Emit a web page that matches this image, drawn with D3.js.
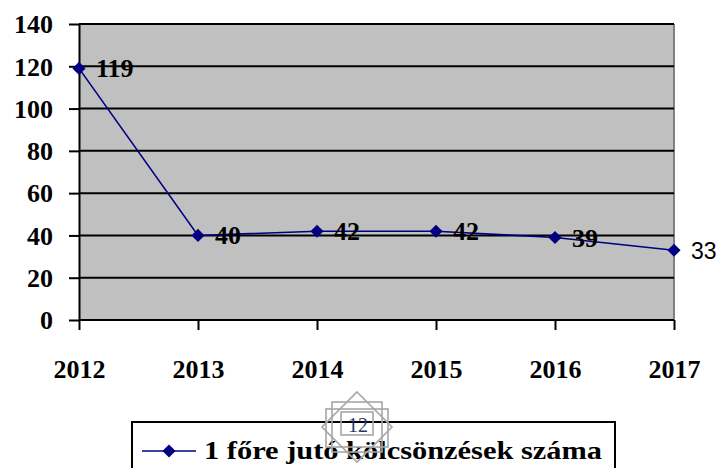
<!DOCTYPE html>
<html>
<head>
<meta charset="utf-8">
<script src="https://cdn.jsdelivr.net/npm/d3@7"></script>
<style>
  html, body { margin: 0; padding: 0; background: #fff; }
  svg { display: block; }
</style>
</head>
<body>
<svg id="chart" width="719" height="468"></svg>
<script>
const years = ["2012", "2013", "2014", "2015", "2016", "2017"];
const values = [119, 40, 42, 42, 39, 33];
const yTicks = [0, 20, 40, 60, 80, 100, 120, 140];
const seriesName = "1 főre jutó kölcsönzések száma";
const pageNumber = "12";

const svg = d3.select("#chart");
const pLeft = 79, pRight = 674, pTop = 24, pBottom = 320;
const serif = "'Liberation Serif', 'Times New Roman', serif";

const x = d3.scalePoint().domain(years).range([pLeft, pRight]);
const y = d3.scaleLinear().domain([0, 140]).range([pBottom, pTop]);

// plot background
svg.append("rect")
  .attr("x", pLeft).attr("y", pTop)
  .attr("width", pRight - pLeft).attr("height", pBottom - pTop)
  .attr("fill", "#C0C0C0");

// right border (gray)
svg.append("line")
  .attr("x1", pRight).attr("x2", pRight)
  .attr("y1", pTop).attr("y2", pBottom)
  .attr("stroke", "#808080").attr("stroke-width", 2);

// gridlines
svg.append("g").selectAll("line").data(yTicks.filter(d => d > 0)).join("line")
  .attr("x1", pLeft).attr("x2", pRight)
  .attr("y1", d => y(d)).attr("y2", d => y(d))
  .attr("stroke", "#000").attr("stroke-width", 2);

// y axis
const yAxis = svg.append("g").attr("transform", `translate(${pLeft},0)`)
  .call(d3.axisLeft(y).tickValues(yTicks).tickSize(10).tickPadding(16).tickSizeOuter(0));
yAxis.select(".domain").attr("stroke", "#000").attr("stroke-width", 2);
yAxis.selectAll(".tick line").attr("stroke", "#000").attr("stroke-width", 2);
yAxis.selectAll(".tick text")
  .attr("font-family", serif).attr("font-weight", "bold").attr("font-size", 26)
  .attr("fill", "#000").attr("x", -26).attr("dy", "0.34em");

// x axis
const xAxis = svg.append("g").attr("transform", `translate(0,${pBottom})`)
  .call(d3.axisBottom(x).tickSize(10).tickSizeOuter(0));
xAxis.select(".domain").attr("stroke", "#000").attr("stroke-width", 2)
  .attr("d", `M${pLeft},0H${pRight}`);
xAxis.selectAll(".tick line").attr("stroke", "#000").attr("stroke-width", 2);
xAxis.selectAll(".tick text")
  .attr("font-family", serif).attr("font-weight", "bold").attr("font-size", 26)
  .attr("fill", "#000").attr("y", 58).attr("dy", 0);

// line
const pts = years.map((yr, i) => ({ yr, v: values[i] }));
svg.append("path").datum(pts)
  .attr("fill", "none").attr("stroke", "#000080").attr("stroke-width", 1.6)
  .attr("d", d3.line().x(d => x(d.yr)).y(d => y(d.v)));

// markers
const diamond = d3.symbol().type(d3.symbolDiamond2).size(110);
svg.append("g").selectAll("path").data(pts).join("path")
  .attr("transform", d => `translate(${x(d.yr)},${y(d.v)})`)
  .attr("d", diamond).attr("fill", "#000080");

// data labels
svg.append("g").selectAll("text").data(pts).join("text")
  .attr("x", d => x(d.yr) + 17)
  .attr("y", d => y(d.v) + 9)
  .attr("font-family", (d, i) => i === pts.length - 1 ? "'Liberation Sans', Arial, sans-serif" : serif)
  .attr("font-weight", (d, i) => i === pts.length - 1 ? "normal" : "bold")
  .attr("font-size", (d, i) => i === pts.length - 1 ? 23 : 26)
  .attr("fill", "#000")
  .text(d => d.v);

// legend
const lg = svg.append("g");
lg.append("rect")
  .attr("x", 132).attr("y", 422).attr("width", 483).attr("height", 60)
  .attr("fill", "#fff").attr("stroke", "#000").attr("stroke-width", 2);
lg.append("line")
  .attr("x1", 142).attr("x2", 196).attr("y1", 451).attr("y2", 451)
  .attr("stroke", "#000080").attr("stroke-width", 1.6);
lg.append("path").attr("transform", "translate(169,451)")
  .attr("d", diamond).attr("fill", "#000080");
lg.append("text")
  .attr("x", 204).attr("y", 459)
  .attr("font-family", serif).attr("font-weight", "bold").attr("font-size", 26)
  .attr("textLength", 398).attr("lengthAdjust", "spacingAndGlyphs")
  .attr("fill", "#000").text(seriesName);

// page-number ornament
const orn = svg.append("g").attr("fill", "none").attr("stroke", "#A6A6A6").attr("stroke-width", 1.6);
const cx = 357, cy = 427;
orn.append("polygon").attr("points", [[cx, cy - 35], [cx + 35, cy], [cx, cy + 35], [cx - 35, cy]].join(" "));
orn.append("rect").attr("x", cx - 25).attr("y", cy - 25).attr("width", 50).attr("height", 50);
orn.append("rect").attr("x", cx - 31).attr("y", cy - 18).attr("width", 62).attr("height", 38);
orn.append("rect").attr("x", cx - 16).attr("y", cy - 15).attr("width", 32).attr("height", 23);
svg.append("text")
  .attr("x", cx + 1).attr("y", cy + 5).attr("text-anchor", "middle")
  .attr("font-family", serif).attr("font-size", 20).attr("fill", "#1F3864")
  .text(pageNumber);
</script>
</body>
</html>
